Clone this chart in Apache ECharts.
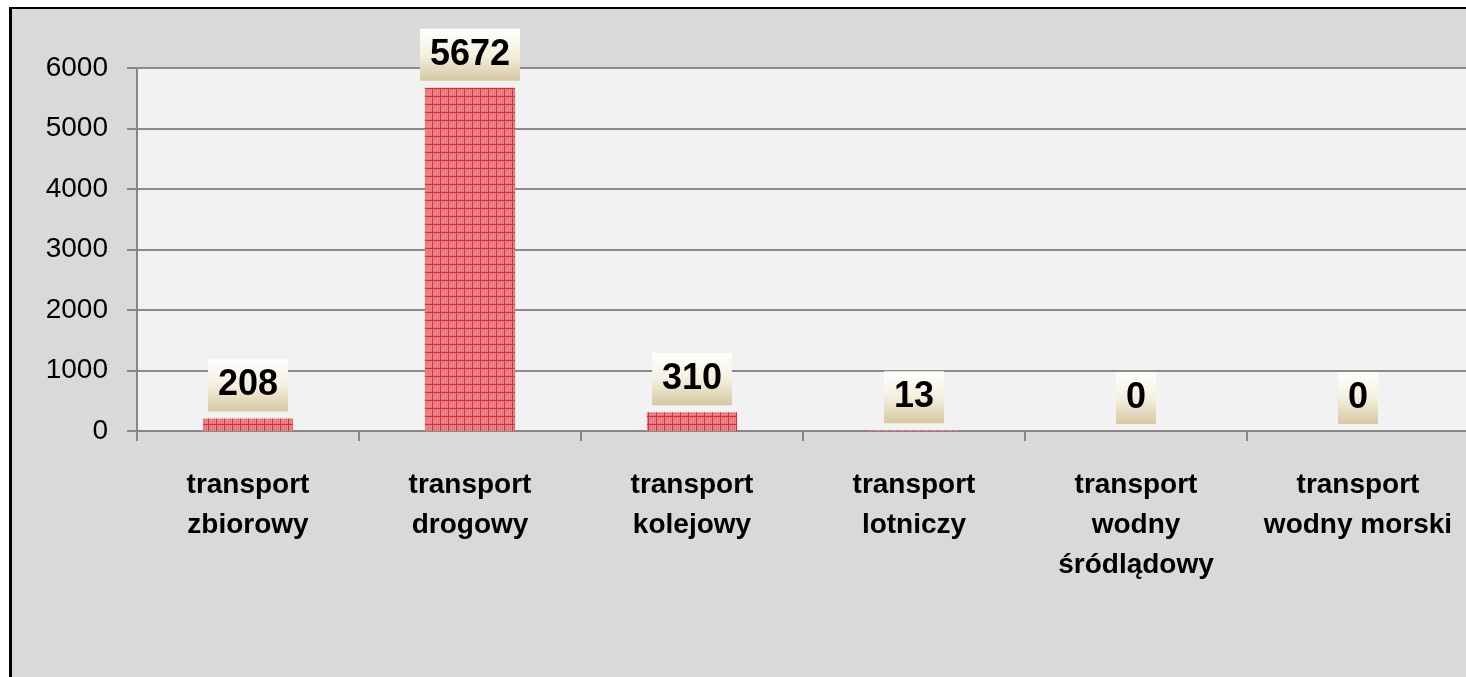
<!DOCTYPE html>
<html>
<head>
<meta charset="utf-8">
<script src="https://cdn.jsdelivr.net/npm/echarts@6/dist/echarts.min.js"></script>
<style>
  html, body { margin: 0; padding: 0; background: #ffffff; width: 1466px; height: 677px; overflow: hidden; }
  #frame { position: absolute; left: 9px; top: 7px; width: 1457px; height: 670px; border-left: 3px solid #000; border-top: 2px solid #000; background: #d9d9d9; }
  #chart { width: 1457px; height: 668px; }
</style>
</head>
<body>
<div id="frame"><div id="chart"></div></div>
<script>
const categories = [
  'transport\nzbiorowy',
  'transport\ndrogowy',
  'transport\nkolejowy',
  'transport\nlotniczy',
  'transport\nwodny\nśródlądowy',
  'transport\nwodny morski'
];
const values = [208, 5672, 310, 13, 0, 0];
const yMin = 0, yMax = 6000, yStep = 1000;

// bar fill pattern (red dotted texture)
function makePattern() {
  const c = document.createElement('canvas');
  c.width = 8; c.height = 8;
  const g = c.getContext('2d');
  g.fillStyle = '#e6747a'; g.fillRect(0, 0, 8, 8);
  g.fillStyle = '#f09a9e';
  for (let x = 1; x < 8; x += 2) for (let y = 1; y < 8; y += 2) g.fillRect(x, y, 1, 1);
  g.fillStyle = '#d2343c';
  g.fillRect(0, 7, 8, 1);
  g.fillRect(4, 0, 1, 8);
  return c;
}

const chart = echarts.init(document.getElementById('chart'), null, { renderer: 'canvas' });
chart.setOption({
  animation: false,
  backgroundColor: 'transparent',
  grid: { left: 125, top: 59, right: 0, bottom: 246, backgroundColor: '#f2f2f2', show: true, borderWidth: 0 },
  xAxis: {
    type: 'category',
    data: categories,
    axisLine: { show: true, lineStyle: { color: '#868686', width: 2 } },
    axisTick: { show: true, length: 10, lineStyle: { color: '#868686', width: 2 } },
    axisLabel: { color: '#000', fontFamily: 'Liberation Sans, Arial, sans-serif', fontWeight: 'bold', fontSize: 28, lineHeight: 40, margin: 34, interval: 0 }
  },
  yAxis: {
    type: 'value',
    min: yMin, max: yMax, interval: yStep,
    axisLine: { show: true, lineStyle: { color: '#868686', width: 2 } },
    axisTick: { show: true, length: 10, lineStyle: { color: '#868686', width: 2 } },
    splitLine: { show: true, lineStyle: { color: '#8a8a8a', width: 2 } },
    axisLabel: { color: '#000', fontFamily: '"Liberation Sans Narrow", "Liberation Sans", sans-serif', fontSize: 28, margin: 29, formatter: v => String(v) }
  },
  series: [{
    type: 'bar',
    data: values,
    barWidth: '40.6%',
    itemStyle: { color: { image: makePattern(), repeat: 'repeat' } },
    label: {
      show: true,
      position: 'top',
      distance: 7,
      color: '#000',
      fontFamily: 'Liberation Sans, Arial, sans-serif',
      fontWeight: 'bold',
      fontSize: 36,
      lineHeight: 36,
      padding: [8, 10, 8, 10],
      backgroundColor: {
        type: 'linear', x: 0, y: 0, x2: 0, y2: 1,
        colorStops: [
          { offset: 0, color: '#ffffff' },
          { offset: 0.5, color: '#f4efdf' },
          { offset: 1, color: '#d7c8a3' }
        ]
      }
    }
  }]
});
</script>
</body>
</html>
